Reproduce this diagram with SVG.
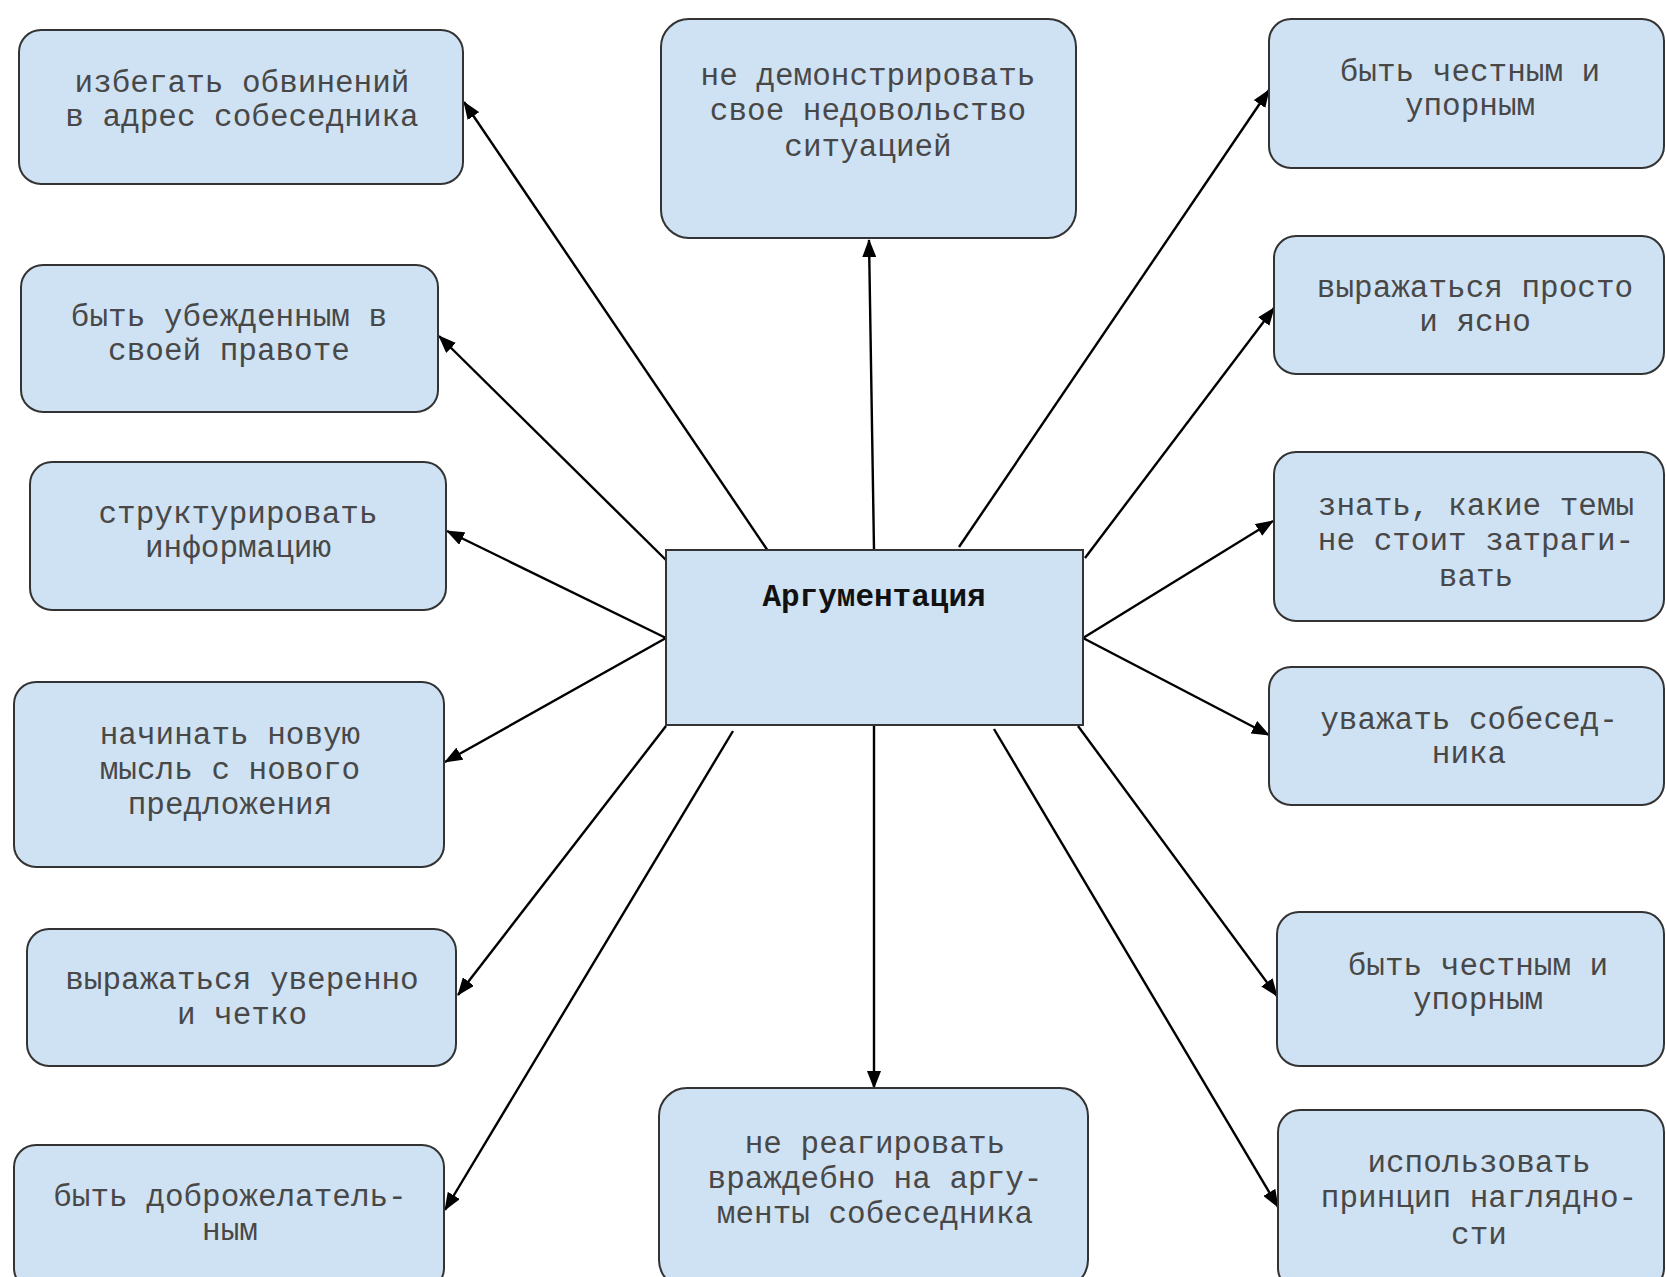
<svg xmlns="http://www.w3.org/2000/svg" width="1666" height="1277" viewBox="0 0 1666 1277">
<style>
.box{fill:#cfe2f3;stroke:#333;stroke-width:2}
.t{font-family:"Liberation Mono","Courier New",monospace;font-size:31px;fill:#484848;text-anchor:middle}
.title{font-family:"Liberation Mono","Courier New",monospace;font-size:31px;font-weight:bold;fill:#111;text-anchor:middle}
.c{stroke:#000;stroke-width:2.4;fill:none;marker-end:url(#ah)}
</style>
<defs>
<marker id="ah" viewBox="0 0 18 14" refX="17" refY="7" markerWidth="18" markerHeight="14" markerUnits="userSpaceOnUse" orient="auto">
<path d="M0,0 L18,7 L0,14 z" fill="#000"/>
</marker>
</defs>
<rect width="1666" height="1277" fill="#fff"/>
<g id="connectors">
<line class="c" x1="768" y1="551" x2="464" y2="102"/>
<line class="c" x1="666" y1="560" x2="439" y2="336"/>
<line class="c" x1="666" y1="638" x2="447" y2="531"/>
<line class="c" x1="666" y1="638" x2="445" y2="762"/>
<line class="c" x1="666" y1="726" x2="458" y2="995"/>
<line class="c" x1="733" y1="731" x2="445" y2="1210"/>
<line class="c" x1="874" y1="550" x2="869" y2="240"/>
<line class="c" x1="874" y1="726" x2="874" y2="1088"/>
<line class="c" x1="959" y1="547" x2="1269" y2="90"/>
<line class="c" x1="1085" y1="558" x2="1274" y2="308"/>
<line class="c" x1="1083" y1="638" x2="1273" y2="521"/>
<line class="c" x1="1083" y1="638" x2="1269" y2="735"/>
<line class="c" x1="1078" y1="726" x2="1277" y2="996"/>
<line class="c" x1="994" y1="729" x2="1278" y2="1207"/>
</g>
<g id="center">
<rect class="box" x="666" y="550" width="417" height="175"/>
<text class="title" x="874" y="606">Аргументация</text>
</g>
<g id="nA">
<rect class="box" x="19" y="30" width="444" height="154" rx="22"/>
<text class="t" x="242" y="92">избегать обвинений</text>
<text class="t" x="242" y="126">в адрес собеседника</text>
</g>
<g id="nB">
<rect class="box" x="21" y="265" width="417" height="147" rx="22"/>
<text class="t" x="229" y="326">быть убежденным в</text>
<text class="t" x="229" y="360">своей правоте</text>
</g>
<g id="nC">
<rect class="box" x="30" y="462" width="416" height="148" rx="22"/>
<text class="t" x="238" y="523">структурировать</text>
<text class="t" x="238" y="557">информацию</text>
</g>
<g id="nD">
<rect class="box" x="14" y="682" width="430" height="185" rx="22"/>
<text class="t" x="230" y="744">начинать новую</text>
<text class="t" x="230" y="779">мысль с нового</text>
<text class="t" x="230" y="814">предложения</text>
</g>
<g id="nE">
<rect class="box" x="27" y="929" width="429" height="137" rx="22"/>
<text class="t" x="242" y="989">выражаться уверенно</text>
<text class="t" x="242" y="1024">и четко</text>
</g>
<g id="nF">
<rect class="box" x="14" y="1145" width="430" height="145" rx="22"/>
<text class="t" x="230" y="1206">быть доброжелатель-</text>
<text class="t" x="230" y="1240">ным</text>
</g>
<g id="nG">
<rect class="box" x="661" y="19" width="415" height="219" rx="28"/>
<text class="t" x="868" y="85">не демонстрировать</text>
<text class="t" x="868" y="120">свое недовольство</text>
<text class="t" x="868" y="156">ситуацией</text>
</g>
<g id="nH">
<rect class="box" x="659" y="1088" width="429" height="200" rx="28"/>
<text class="t" x="875" y="1153">не реагировать</text>
<text class="t" x="875" y="1188">враждебно на аргу-</text>
<text class="t" x="875" y="1223">менты собеседника</text>
</g>
<g id="nI">
<rect class="box" x="1269" y="19" width="395" height="149" rx="22"/>
<text class="t" x="1470" y="81">быть честным и</text>
<text class="t" x="1470" y="115">упорным</text>
</g>
<g id="nJ">
<rect class="box" x="1274" y="236" width="390" height="138" rx="22"/>
<text class="t" x="1475" y="297">выражаться просто</text>
<text class="t" x="1475" y="331">и ясно</text>
</g>
<g id="nK">
<rect class="box" x="1274" y="452" width="390" height="169" rx="22"/>
<text class="t" x="1476" y="515">знать, какие темы</text>
<text class="t" x="1476" y="550">не стоит затраги-</text>
<text class="t" x="1476" y="586">вать</text>
</g>
<g id="nL">
<rect class="box" x="1269" y="667" width="395" height="138" rx="22"/>
<text class="t" x="1469" y="729">уважать собесед-</text>
<text class="t" x="1469" y="763">ника</text>
</g>
<g id="nM">
<rect class="box" x="1277" y="912" width="387" height="154" rx="22"/>
<text class="t" x="1478" y="975">быть честным и</text>
<text class="t" x="1478" y="1009">упорным</text>
</g>
<g id="nN">
<rect class="box" x="1278" y="1110" width="386" height="180" rx="22"/>
<text class="t" x="1479" y="1172">использовать</text>
<text class="t" x="1479" y="1207">принцип наглядно-</text>
<text class="t" x="1479" y="1244">сти</text>
</g>
</svg>
